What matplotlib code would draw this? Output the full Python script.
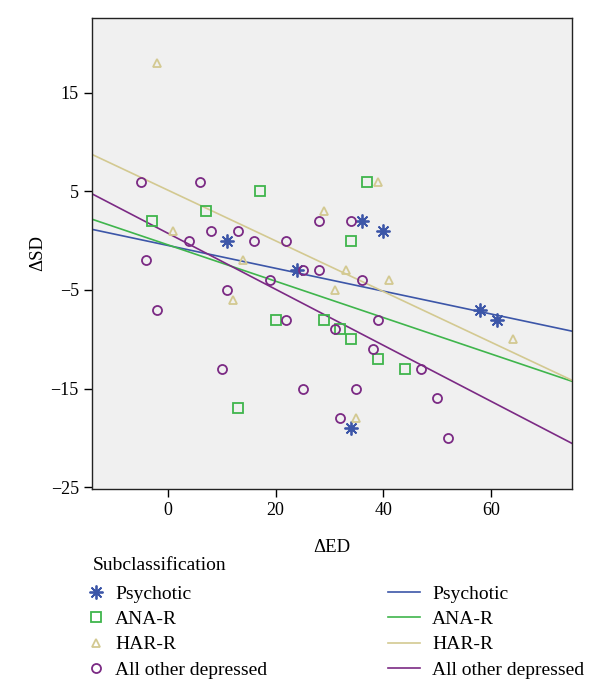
import matplotlib
matplotlib.use("Agg")
import matplotlib.pyplot as plt
import numpy as np
from matplotlib.lines import Line2D

plt.rcParams['font.family'] = ['Liberation Serif', 'DejaVu Serif']

groups = ["Psychotic", "ANA-R", "HAR-R", "All other depressed"]

psych_x = [11, 24, 36, 40, 58, 61, 34]
psych_y = [0, -3, 2, 1, -7, -8, -19]

ana_x = [-3, 7, 17, 37, 34, 20, 29, 32, 34, 39, 44, 13]
ana_y = [2, 3, 5, 6, 0, -8, -8, -9, -10, -12, -13, -17]

har_x = [-2, 1, 14, 29, 39, 33, 41, 31, 12, 64, 35]
har_y = [18, 1, -2, 3, 6, -3, -4, -5, -6, -10, -18]

oth_x = [-5, 6, 8, 13, 28, 4, 16, 22, -4, 25, 28, 34, 36, 39, 31, 38, 19, 11,
         -2, 22, 10, 25, 32, 47, 35, 50, 52]
oth_y = [6, 6, 1, 1, 2, 0, 0, 0, -2, -3, -3, 2, -4, -8, -9, -11, -4, -5,
         -7, -8, -13, -15, -18, -13, -15, -16, -20]

xs = [psych_x, ana_x, har_x, oth_x]
ys = [psych_y, ana_y, har_y, oth_y]
colors = ["#3c56a8", "#3fb54c", "#d3c991", "#7b2a84"]
markers = [(8, 2, 0), "s", "^", "o"]
sizes = [10, 6.5, 6, 6.5]

fig = plt.figure(figsize=(6, 6.97), dpi=100)
ax = fig.add_axes([0.1533, 0.2984, 0.8, 0.6758])
ax.set_facecolor("#f0f0f0")

# regression line per group
xlim = (-14.1, 75)
line_x = np.array(xlim)
for x, y, c in zip(xs, ys, colors):
    k, b = np.polyfit(x, y, 1)
    ax.plot(line_x, k * line_x + b, color=c, lw=1.2, zorder=2)

for x, y, c, m, s in zip(xs, ys, colors, markers, sizes):
    if m == (8, 2, 0):
        ax.plot(x, y, ls="none", marker=m, ms=s, mec=c, mew=1.3, zorder=3)
        ax.plot(x, y, ls="none", marker="o", ms=3.5, mfc=c, mec=c, zorder=3)
    else:
        ax.plot(x, y, ls="none", marker=m, ms=s, mfc="none", mec=c, mew=1.3, zorder=3)

ax.set_xlim(*xlim)
ax.set_ylim(-25.2, 22.6)
ax.set_xticks([0, 20, 40, 60])
ax.set_yticks([15, 5, -5, -15, -25])
ax.tick_params(labelsize=13, length=6, width=1, direction="out")
for sp in ax.spines.values():
    sp.set_color("#222222")
    sp.set_linewidth(1)

ax.set_xlabel("ΔED", fontsize=13.5, labelpad=14)
ax.set_ylabel("ΔSD", fontsize=13.5, labelpad=3)

pt_handles = []
ln_handles = []
for c, m, s in zip(colors, markers, sizes):
    if m == (8, 2, 0):
        pt_handles.append(Line2D([], [], ls="none", marker=m, ms=s, mec=c, mew=1.3))
    else:
        pt_handles.append(Line2D([], [], ls="none", marker=m, ms=s, mfc="none", mec=c, mew=1.3))
    ln_handles.append(Line2D([], [], color=c, lw=1.2))

fig.text(0.155, 1 - 565 / 697, "Subclassification", fontsize=14, va="center", ha="left")
fig.legend(pt_handles, groups, loc="upper left", bbox_to_anchor=(0.1438, 0.16),
           frameon=False, fontsize=14, handlelength=1.0, borderpad=0,
           handletextpad=0.48, labelspacing=0.39, borderaxespad=0)
fig.legend(ln_handles, groups, loc="upper left", bbox_to_anchor=(0.6467, 0.16),
           frameon=False, fontsize=14, handlelength=1.65, borderpad=0,
           handletextpad=0.62, labelspacing=0.39, borderaxespad=0)

fig.savefig("out.png", dpi=100)
